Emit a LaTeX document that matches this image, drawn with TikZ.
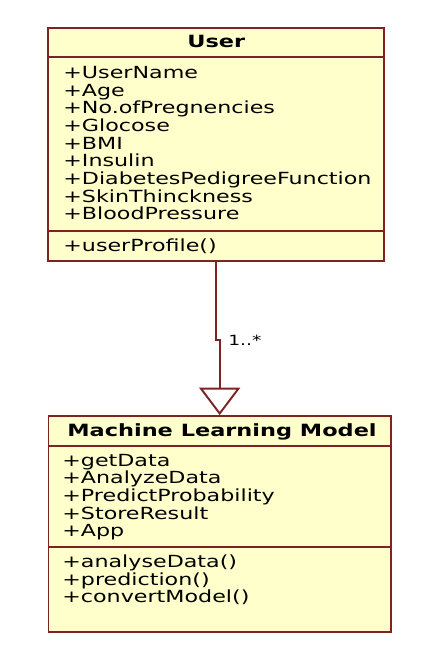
\documentclass[tikz,border=0pt]{standalone}
\usepackage{fontspec}
\setmainfont{DejaVu Sans}[FakeStretch=1.33]
\usetikzlibrary{arrows.meta}

\definecolor{umlfill}{RGB}{255,255,204}
\definecolor{umlline}{RGB}{125,35,35}

\begin{document}
\begin{tikzpicture}[x=0.02cm,y=-0.02cm]
  \tikzset{classbox/.style = {draw=umlline,fill=umlfill,line width=1.1pt,inner sep=0pt}}
  \tikzset{classtitle/.style = {anchor=base,inner sep=0pt,font=\bfseries\fontsize{9.6}{10}\selectfont}}
  \tikzset{member/.style = {anchor=base west,inner sep=0pt,font=\fontsize{9.5}{10}\selectfont}}
  \tikzset{divider/.style = {draw=umlline,line width=1.1pt}}
  \tikzset{inherit/.style = {draw=umlline,line width=1.1pt,-{Triangle[open,length=0.55cm,width=0.82cm]}}}

  \useasboundingbox (0,0) rectangle (440,660);

  % class User
	\node[classbox,minimum width=6.72cm,minimum height=4.65cm] (user) at (216.3,144.5) {};
	\node[classtitle] (usertitle) at (216.3,47.7) {User};
	\draw[divider] (48.3,57.3) -- (384.3,57.3);
	\draw[divider] (48.3,230.7) -- (384.3,230.7);
	\foreach \attr [count=\i] in {UserName,Age,No.ofPregnencies,Glocose,BMI,Insulin,DiabetesPedigreeFunction,SkinThinckness,BloodPressure}
    \node[member] (userattr\i) at (63,{78.3+(\i-1)*17.7}) {+\attr};
	\node[member] (userop1) at (63,251) {+userProfile()};

  % class Machine Learning Model
	\node[classbox,minimum width=6.85cm,minimum height=4.31cm] (mlm) at (219.7,523.8) {};
	\node[classtitle] (mlmtitle) at (222,436.7) {Machine Learning Model};
	\draw[divider] (48.3,445.7) -- (391,445.7);
	\draw[divider] (48.3,546.7) -- (391,546.7);
	\foreach \attr [count=\i] in {getData,AnalyzeData,PredictProbability,StoreResult,App}
    \node[member] (mlmattr\i) at (62,{466+(\i-1)*17.7}) {+\attr};
	\foreach \op [count=\i] in {analyseData(),prediction(),convertModel()}
    \node[member] (mlmop\i) at (62,{567.7+(\i-1)*17.5}) {+\op};

  % generalization
	\coordinate (jog) at (219.7,340);
	\draw[inherit] (user.south) |- (jog) -- (mlm.north);
	\node[member,font=\fontsize{8}{9}\selectfont] (mult) at (228,345) {1..*};
\end{tikzpicture}
\end{document}
